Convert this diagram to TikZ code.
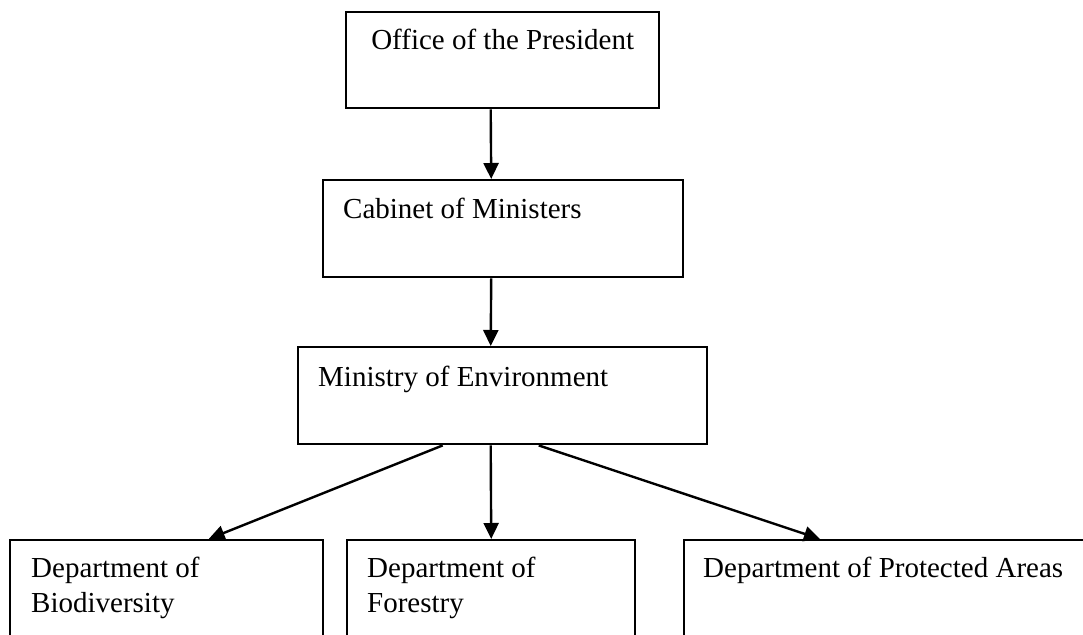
\documentclass[tikz,border=0pt]{standalone}
\usepackage{fontspec}
\setmainfont{Liberation Serif}
\usetikzlibrary{arrows.meta}
\tikzset{
	orgbox/.style={draw, line width=2.4pt, inner sep=0pt, anchor=north west, minimum height=97},
	boxtext/.style={anchor=base west, inner sep=0pt, align=left, font=\fontsize{29}{35}\selectfont},
	link/.style={line width=2.4pt, -{Triangle[length=16pt, width=15pt]}},
}
\begin{document}
\begin{tikzpicture}[x=1pt, y=-1pt]
		\useasboundingbox (0,0) rectangle (1083,634);

		% levels from top to bottom
		\node[orgbox, minimum width=313, minimum height=96,
			label={[boxtext, anchor=base, yshift=-39pt]north:Office of the President}] (president) at (345,11) {};
		\node[orgbox, minimum width=360,
			label={[boxtext, xshift=21pt, yshift=-39pt]north west:Cabinet of Ministers}] (cabinet) at (322,179) {};
		\node[orgbox, minimum width=409,
			label={[boxtext, xshift=21pt, yshift=-40pt]north west:Ministry of Environment}] (ministry) at (297,346) {};

		% departments (base of a two line text is its last line)
		\node[orgbox, minimum width=313, minimum height=120,
			label={[boxtext, xshift=22pt, yshift=-73pt]north west:{Department of\\Biodiversity}}] (biodiv) at (9,539) {};
		\node[orgbox, minimum width=288, minimum height=120,
			label={[boxtext, xshift=21pt, yshift=-73pt]north west:{Department of\\Forestry}}] (forestry) at (346,539) {};
		\node[orgbox, minimum width=420, minimum height=120,
			label={[boxtext, xshift=20pt, yshift=-38pt]north west:Department of Protected Areas}] (areas) at (683,539) {};

		\draw[link] ([xshift=-12pt]president.south) -- ([xshift=-12pt]cabinet.north);
		\draw[link] ([xshift=-12pt]cabinet.south) -- ([xshift=-12pt]ministry.north);

		\draw[link] ([xshift=-60pt]ministry.south) -- ([xshift=42pt]biodiv.north);
		\draw[link] ([xshift=-12pt]ministry.south) -- (forestry.north);
		\draw[link] ([xshift=36pt]ministry.south) -- ([xshift=137pt]areas.north west);
	\end{tikzpicture}
\end{document}
